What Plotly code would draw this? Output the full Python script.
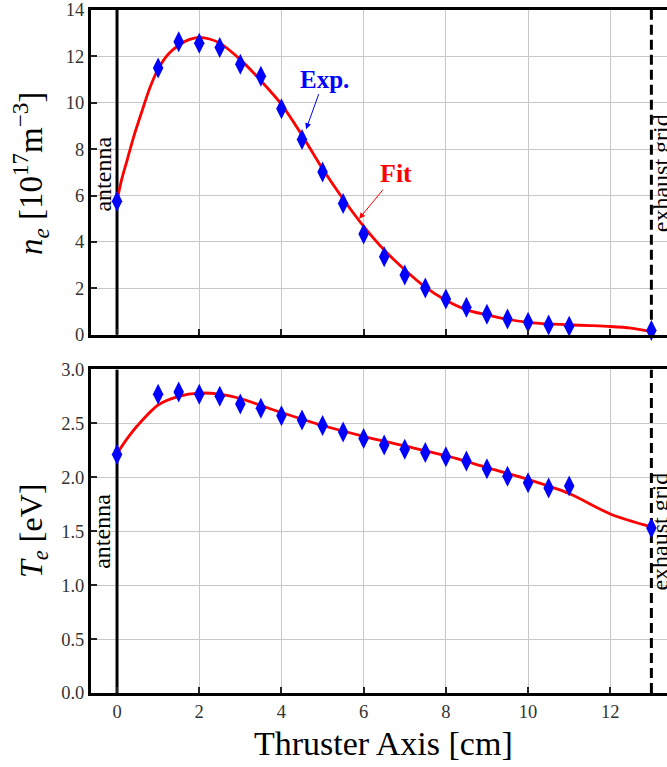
import plotly.graph_objects as go

# Measured points
x_exp = [0, 1, 1.5, 2, 2.5, 3, 3.5, 4, 4.5, 5, 5.5, 6, 6.5, 7, 7.5, 8, 8.5, 9, 9.5, 10, 10.5, 11, 13]
ne_exp = [5.75, 11.5, 12.63, 12.57, 12.38, 11.66, 11.14, 9.74, 8.41, 7.01, 5.65, 4.34, 3.36, 2.57, 2.01, 1.54, 1.18, 0.88, 0.67, 0.53, 0.42, 0.36, 0.18]
te_exp = [2.21, 2.77, 2.79, 2.77, 2.75, 2.68, 2.64, 2.57, 2.53, 2.48, 2.42, 2.36, 2.30, 2.26, 2.23, 2.19, 2.15, 2.08, 2.01, 1.95, 1.90, 1.92, 1.53]

# Fit curves
x_fit_ne = [0, 0.1, 0.25, 0.4, 0.6, 0.8, 1, 1.25, 1.5, 1.75, 2, 2.25, 2.5, 3, 3.5, 4, 4.5, 5, 5.5, 6, 6.5, 7, 7.5, 8, 8.5, 9, 9.5, 10, 10.5, 11, 11.5, 12, 12.5, 13]
ne_fit = [5.75, 6.6, 7.55, 8.5, 9.6, 10.65, 11.45, 12.1, 12.48, 12.72, 12.82, 12.75, 12.57, 11.86, 10.95, 9.93, 8.6, 7.15, 5.85, 4.67, 3.65, 2.8, 2.05, 1.48, 1.07, 0.85, 0.66, 0.53, 0.46, 0.42, 0.39, 0.35, 0.28, 0.13]
x_fit_te = [0, 0.25, 0.5, 1, 1.5, 2, 2.5, 3, 4, 5, 6, 7, 8, 9, 10, 11, 12, 13]
te_fit = [2.22, 2.36, 2.48, 2.67, 2.75, 2.78, 2.77, 2.73, 2.6, 2.48, 2.38, 2.29, 2.2, 2.09, 1.98, 1.85, 1.66, 1.54]

ne_ticks = [0, 2, 4, 6, 8, 10, 12, 14]
te_ticks = [0.0, 0.5, 1.0, 1.5, 2.0, 2.5, 3.0]
x_ticks = [0, 2, 4, 6, 8, 10, 12]

ne_range = [0, 14]
te_range = [0, 3.0]
antenna_x = 0
grid_x = 13

SERIF = "Liberation Serif"
TICKC = "#333333"

fig = go.Figure()

# reference lines (antenna solid, exhaust grid dashed) drawn under the data
for xa, ya, rng in [("x", "y", ne_range), ("x2", "y2", te_range)]:
    fig.add_trace(go.Scatter(x=[antenna_x, antenna_x], y=rng, mode="lines", line=dict(color="black", width=3),
                             xaxis=xa, yaxis=ya, showlegend=False, hoverinfo="skip"))
    fig.add_trace(go.Scatter(x=[grid_x, grid_x], y=rng, mode="lines", line=dict(color="black", width=3, dash="10px,5px"),
                             xaxis=xa, yaxis=ya, showlegend=False, hoverinfo="skip"))

fig.add_trace(go.Scatter(x=x_fit_ne, y=ne_fit, mode="lines", line=dict(color="#ff0000", width=2.8, shape="spline", smoothing=0.8),
                         xaxis="x", yaxis="y", showlegend=False))
fig.add_trace(go.Scatter(x=x_exp, y=ne_exp, mode="markers", marker=dict(symbol="diamond-tall", size=15, color="#0000ff", line=dict(width=0)),
                         xaxis="x", yaxis="y", showlegend=False, cliponaxis=False))
fig.add_trace(go.Scatter(x=x_fit_te, y=te_fit, mode="lines", line=dict(color="#ff0000", width=2.8, shape="spline", smoothing=0.8),
                         xaxis="x2", yaxis="y2", showlegend=False))
fig.add_trace(go.Scatter(x=x_exp, y=te_exp, mode="markers", marker=dict(symbol="diamond-tall", size=15, color="#0000ff", line=dict(width=0)),
                         xaxis="x2", yaxis="y2", showlegend=False, cliponaxis=False))

xrange = [-0.633, 13.38]
common_x = dict(range=xrange, tickvals=x_ticks, showgrid=True, gridcolor="#c8c8c8", gridwidth=1,
                showline=True, linecolor="black", linewidth=3, mirror=True,
                ticks="inside", ticklen=6, tickwidth=1.5, tickcolor="#222222", zeroline=False,
                tickfont=dict(family=SERIF, size=18.5, color=TICKC))
common_y = dict(showgrid=True, gridcolor="#c8c8c8", gridwidth=1,
                showline=True, linecolor="black", linewidth=3, mirror=False,
                ticks="inside", ticklen=6, tickwidth=1.5, tickcolor="#222222", zeroline=False,
                tickfont=dict(family=SERIF, size=18.5, color=TICKC))

fig.update_layout(
    width=667, height=767,
    margin=dict(l=91, r=0, t=5, b=74),
    paper_bgcolor="white", plot_bgcolor="white",
    xaxis=dict(common_x, anchor="y", domain=[0, 1], showticklabels=False, matches="x2"),
    yaxis=dict(common_y, anchor="x", domain=[0.5247, 1], range=ne_range, tickvals=ne_ticks),
    xaxis2=dict(common_x, anchor="y2", domain=[0, 1]),
    yaxis2=dict(common_y, anchor="x2", domain=[0, 0.4738], range=te_range, tickvals=te_ticks,
                ticktext=["%.1f" % v for v in te_ticks]),
)

ann_font = dict(family=SERIF, size=24, color="black")
fig.add_annotation(x=-0.35, y=6.93, xref="x", yref="y", text="antenna", textangle=-90, showarrow=False,
                   font=ann_font, xanchor="center", yanchor="middle")
fig.add_annotation(x=-0.35, y=1.50, xref="x2", yref="y2", text="antenna", textangle=-90, showarrow=False,
                   font=ann_font, xanchor="center", yanchor="middle")
fig.add_annotation(x=13.22, y=6.98, xref="x", yref="y", text="exhaust grid", textangle=-90, showarrow=False,
                   font=ann_font, xanchor="center", yanchor="middle")
fig.add_annotation(x=13.22, y=1.50, xref="x2", yref="y2", text="exhaust grid", textangle=-90, showarrow=False,
                   font=ann_font, xanchor="center", yanchor="middle")

# Exp. / Fit labels
fig.add_annotation(x=4.6, y=8.86, xref="x", yref="y", ax=18, ay=-50, text="<b>Exp.</b>", showarrow=True,
                   arrowhead=2, arrowsize=1.2, arrowwidth=1, arrowcolor="#0000ff",
                   font=dict(family=SERIF, size=25, color="#0000ff"))
fig.add_annotation(x=5.89, y=5.0, xref="x", yref="y", ax=37, ay=-45, text="<b>Fit</b>", showarrow=True,
                   arrowhead=2, arrowsize=1.2, arrowwidth=1, arrowcolor="#ff0000",
                   font=dict(family=SERIF, size=26, color="#ff0000"))

# Axis titles
fig.add_annotation(x=-0.104, y=0.760, xref="paper", yref="paper", textangle=-90, showarrow=False,
                   xanchor="center", yanchor="middle",
                   text="<i>n</i><sub><i>e</i></sub> [10<sup>17</sup>m<sup>−3</sup>]",
                   font=dict(family=SERIF, size=33, color="black"))
fig.add_annotation(x=-0.101, y=0.237, xref="paper", yref="paper", textangle=-90, showarrow=False,
                   xanchor="center", yanchor="middle",
                   text="<i>T</i><sub><i>e</i></sub> [eV]",
                   font=dict(family=SERIF, size=32, color="black"))
fig.add_annotation(x=0.507, y=-0.074, xref="paper", yref="paper", showarrow=False,
                   xanchor="center", yanchor="middle",
                   text="Thruster Axis [cm]", font=dict(family=SERIF, size=34, color="black"))

fig.write_html("out.html", config={"displayModeBar": False},
               post_script="document.body.style.margin='0';document.body.style.overflow='hidden';")
